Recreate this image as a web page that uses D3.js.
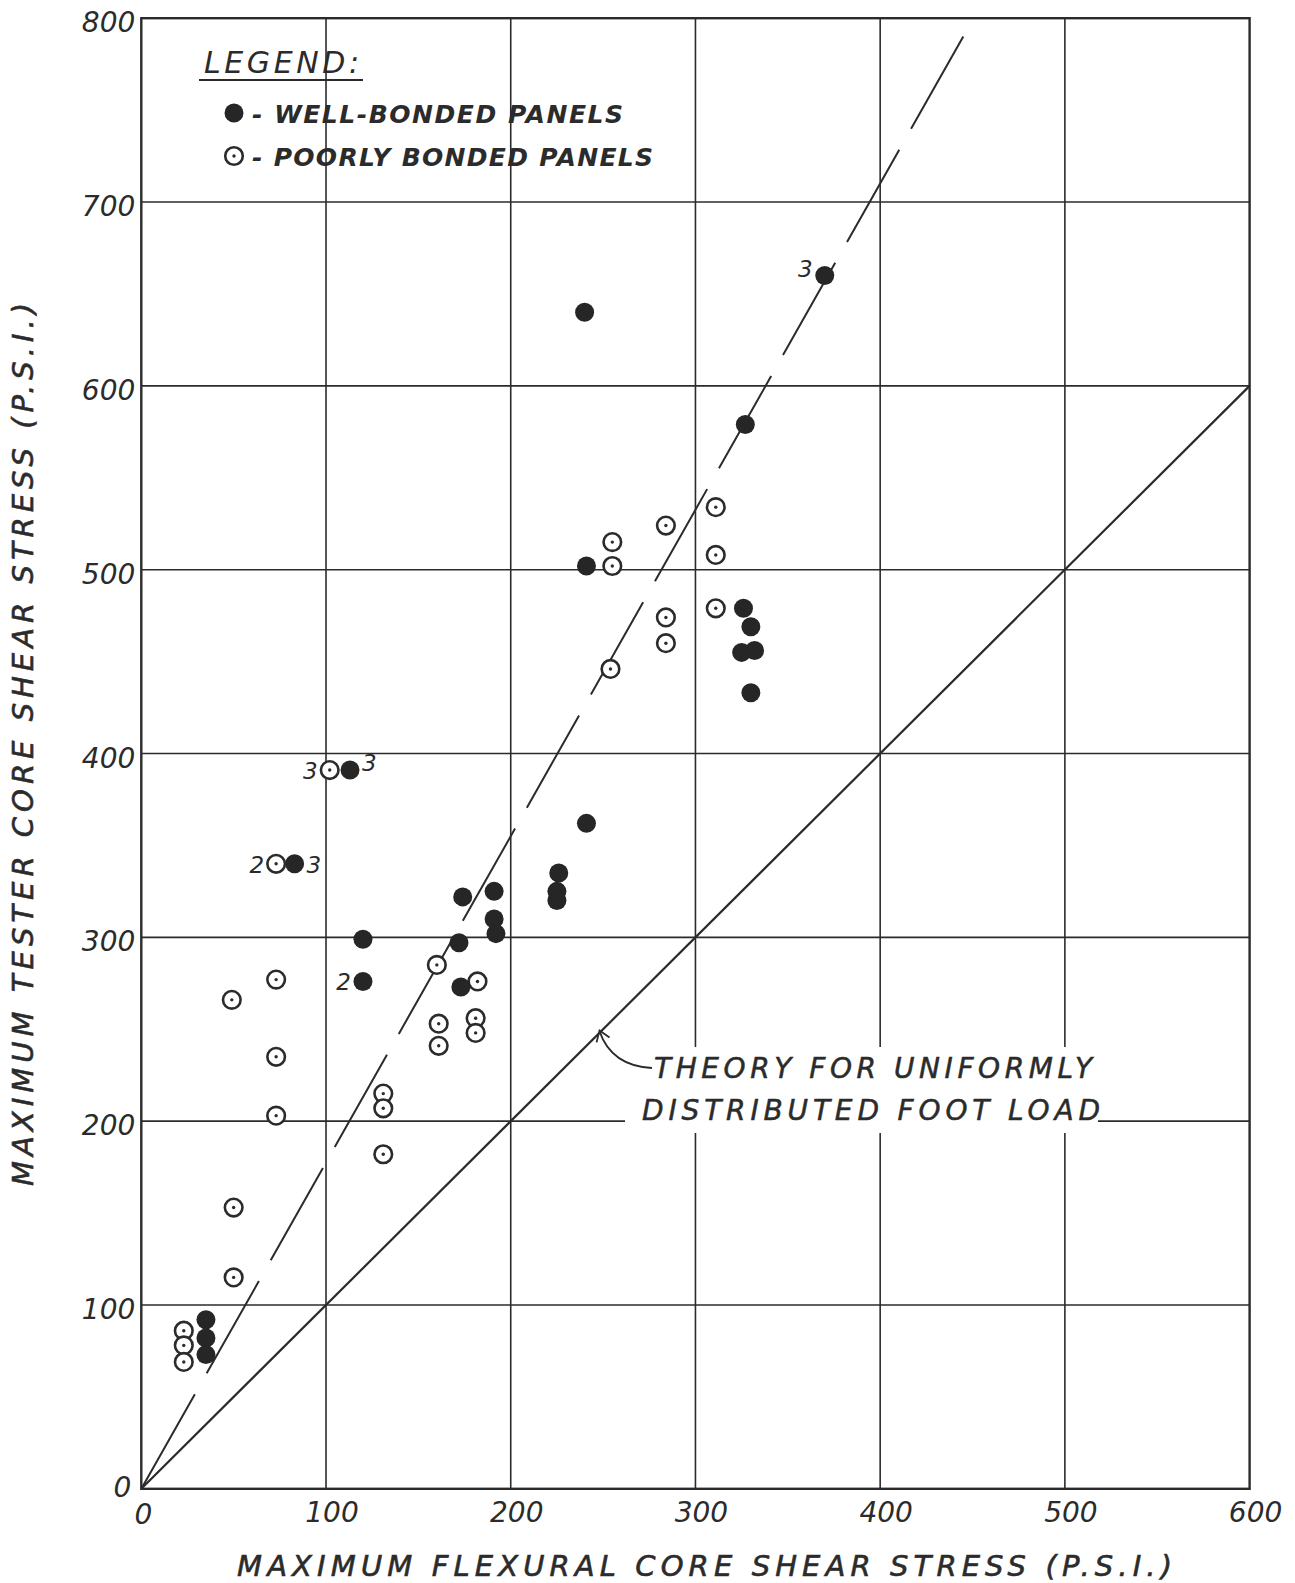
<!DOCTYPE html>
<html>
<head>
<meta charset="utf-8">
<script src="https://cdn.jsdelivr.net/npm/d3@7"></script>
<style>
  body { margin: 0; background: #fff; }
  svg { display: block; }
  text { font-family: "DejaVu Sans", "Liberation Sans", sans-serif; font-style: oblique; fill: #2b2b2b; white-space: pre; }
</style>
</head>
<body>
<svg id="chart" width="1295" height="1583"></svg>
<script>
'use strict';

// tick values
var xTicks = [0, 100, 200, 300, 400, 500, 600];
var yTicks = [0, 100, 200, 300, 400, 500, 600, 700, 800];

// well-bonded panels (filled)
var wellX = [370, 240, 327, 241, 326, 330, 325, 332, 330, 241, 113, 83, 120, 120,
  174, 191, 191, 192, 172, 173, 226, 225, 225, 35, 35, 35];
var wellY = [660, 640, 579, 502, 479, 469, 455, 456, 433, 362, 391, 340, 299, 276,
  322, 325, 310, 302, 297, 273, 335, 325, 320, 92, 82, 73];

// poorly bonded panels (open)
var poorX = [49, 73, 73, 73, 50, 50, 23, 23, 23, 102, 73, 160, 161, 161, 182, 181, 181,
  131, 131, 131, 255, 255, 254, 284, 284, 284, 311, 311, 311];
var poorY = [266, 277, 235, 203, 153, 115, 86, 78, 69, 391, 340, 285, 253, 241, 276, 256, 248,
  215, 207, 182, 515, 502, 446, 524, 474, 460, 534, 508, 479];

// small repeat-count labels: point, text, side
var noteX = [370, 102, 113, 73, 83, 120];
var noteY = [660, 391, 391, 340, 340, 276];
var noteText = ['3', '3', '3', '2', '3', '2'];
var noteSide = ['left', 'left', 'right', 'left', 'right', 'left'];

// lines
var trendEnd = [445, 790];   // dashed fit through origin
var theoryEnd = [600, 600];  // y = x

var svg = d3.select('#chart');
var x = d3.scaleLinear().domain([0, 600]).range([141.3, 1249.6]);
var y = d3.scaleLinear().domain([0, 800]).range([1488.8, 18.2]);
var ink = '#2b2b2b';

// grid
var grid = svg.append('g');
grid.selectAll('.vg').data(xTicks.slice(1, -1)).enter().append('line')
  .attr('x1', function (d) { return x(d); }).attr('x2', function (d) { return x(d); })
  .attr('y1', y(800)).attr('y2', y(0))
  .attr('stroke', ink).attr('stroke-width', 1.6);
grid.selectAll('.hg').data(yTicks.slice(1, -1)).enter().append('line')
  .attr('x1', x(0)).attr('x2', x(600))
  .attr('y1', function (d) { return y(d); }).attr('y2', function (d) { return y(d); })
  .attr('stroke', ink).attr('stroke-width', 1.6);
svg.append('rect')
  .attr('x', x(0)).attr('y', y(800))
  .attr('width', x(600) - x(0)).attr('height', y(0) - y(800))
  .attr('fill', 'none').attr('stroke', ink).attr('stroke-width', 2.4);

// tick labels
svg.selectAll('.xl').data(xTicks).enter().append('text')
  .attr('x', function (d) { return x(d) + (d === 0 ? 2 : 6); })
  .attr('y', function (d) { return y(0) + (d === 0 ? 35 : 33); })
  .attr('text-anchor', 'middle')
  .attr('font-size', 28)
  .attr('fill', '#333')
  .text(function (d) { return d; });
svg.selectAll('.yl').data(yTicks).enter().append('text')
  .attr('x', function (d) { return d === 0 ? x(0) - 10 : x(0) - 6; })
  .attr('y', function (d) { return y(d) + (d === 0 ? 8 : 14); })
  .attr('text-anchor', 'end')
  .attr('font-size', 28)
  .attr('fill', '#333')
  .text(function (d) { return d; });

// theory and trend lines
svg.append('line')
  .attr('x1', x(0)).attr('y1', y(0))
  .attr('x2', x(theoryEnd[0])).attr('y2', y(theoryEnd[1]))
  .attr('stroke', ink).attr('stroke-width', 2.2);
// drawn from the top end down so the pattern ends on a full dash at the top
svg.append('line')
  .attr('x1', x(trendEnd[0])).attr('y1', y(trendEnd[1]))
  .attr('x2', x(0)).attr('y2', y(0))
  .attr('stroke', ink).attr('stroke-width', 2)
  .attr('stroke-dasharray', '106 24');

// annotation for the theory line
var noteBox = svg.append('g');
noteBox.append('rect')
  .attr('x', 625).attr('y', 1047).attr('width', 473).attr('height', 86)
  .attr('fill', '#fff');
noteBox.append('text')
  .attr('x', 654).attr('y', 1078)
  .attr('font-size', 28).attr('textLength', 438).attr('lengthAdjust', 'spacing')
  .attr('stroke', '#2b2b2b').attr('stroke-width', 0.5)
  .text('THEORY FOR UNIFORMLY');
noteBox.append('text')
  .attr('x', 642).attr('y', 1120)
  .attr('font-size', 28).attr('textLength', 458).attr('lengthAdjust', 'spacing')
  .attr('stroke', '#2b2b2b').attr('stroke-width', 0.5)
  .text('DISTRIBUTED FOOT LOAD');
var tipX = x(247), tipY = y(251);
noteBox.append('path')
  .attr('d', 'M' + 652 + ',' + 1068 + ' Q' + (tipX + 14) + ',' + 1066 + ' ' + (tipX + 2) + ',' + (tipY + 4))
  .attr('fill', 'none').attr('stroke', ink).attr('stroke-width', 1.8);
noteBox.append('path')
  .attr('d', 'M' + (tipX - 1) + ',' + (tipY + 15) + ' L' + (tipX + 2) + ',' + (tipY + 3) + ' L' + (tipX + 12) + ',' + (tipY + 10))
  .attr('fill', 'none').attr('stroke', ink).attr('stroke-width', 1.8);

// markers
var wellData = wellX.map(function (v, i) { return [v, wellY[i]]; });
var poorData = poorX.map(function (v, i) { return [v, poorY[i]]; });

function drawOpen(sel) {
  sel.append('circle').attr('r', 8.8)
    .attr('fill', '#fff').attr('stroke', ink).attr('stroke-width', 2.6);
  sel.append('circle').attr('r', 1.7).attr('fill', ink);
}

var open = svg.selectAll('.poor').data(poorData).enter().append('g')
  .attr('transform', function (d) { return 'translate(' + x(d[0]) + ',' + y(d[1]) + ')'; });
drawOpen(open);

svg.selectAll('.well').data(wellData).enter().append('circle')
  .attr('cx', function (d) { return x(d[0]); })
  .attr('cy', function (d) { return y(d[1]); })
  .attr('r', 9.5)
  .attr('fill', '#262626');

// repeat-count labels
svg.selectAll('.note').data(noteText).enter().append('text')
  .attr('x', function (d, i) { return x(noteX[i]) + (noteSide[i] === 'left' ? -12 : 12); })
  .attr('y', function (d, i) { return y(noteY[i]) + (i === 0 || i === 2 ? 1 : 9); })
  .attr('text-anchor', function (d, i) { return noteSide[i] === 'left' ? 'end' : 'start'; })
  .attr('font-size', 23)
  .text(function (d) { return d; });

// legend
var legend = svg.append('g');
legend.append('text')
  .attr('x', 204).attr('y', 73)
  .attr('font-size', 30).attr('textLength', 155).attr('lengthAdjust', 'spacing')
  .text('LEGEND:');
legend.append('line')
  .attr('x1', 199).attr('x2', 363).attr('y1', 80).attr('y2', 80)
  .attr('stroke', ink).attr('stroke-width', 2);
legend.append('circle').attr('cx', 234).attr('cy', 113).attr('r', 9.5).attr('fill', '#262626');
legend.append('text')
  .attr('x', 252).attr('y', 123)
  .attr('font-size', 25).attr('font-weight', 'bold')
  .attr('textLength', 371).attr('lengthAdjust', 'spacing')
  .text('- WELL-BONDED PANELS');
var lg = legend.append('g').attr('transform', 'translate(234,156)');
drawOpen(lg);
legend.append('text')
  .attr('x', 252).attr('y', 166)
  .attr('font-size', 25).attr('font-weight', 'bold')
  .attr('textLength', 401).attr('lengthAdjust', 'spacing')
  .text('- POORLY BONDED PANELS');

// axis titles
svg.append('text')
  .attr('x', 237).attr('y', 1576)
  .attr('font-size', 29)
  .attr('stroke', '#2b2b2b').attr('stroke-width', 0.6)
  .attr('textLength', 935).attr('lengthAdjust', 'spacing')
  .text('MAXIMUM FLEXURAL CORE SHEAR STRESS (P.S.I.)');
svg.append('text')
  .attr('transform', 'translate(33,1186) rotate(-90)')
  .attr('font-size', 29)
  .attr('stroke', '#2b2b2b').attr('stroke-width', 0.6)
  .attr('textLength', 883).attr('lengthAdjust', 'spacing')
  .text('MAXIMUM TESTER CORE SHEAR STRESS (P.S.I.)');
</script>
</body>
</html>
